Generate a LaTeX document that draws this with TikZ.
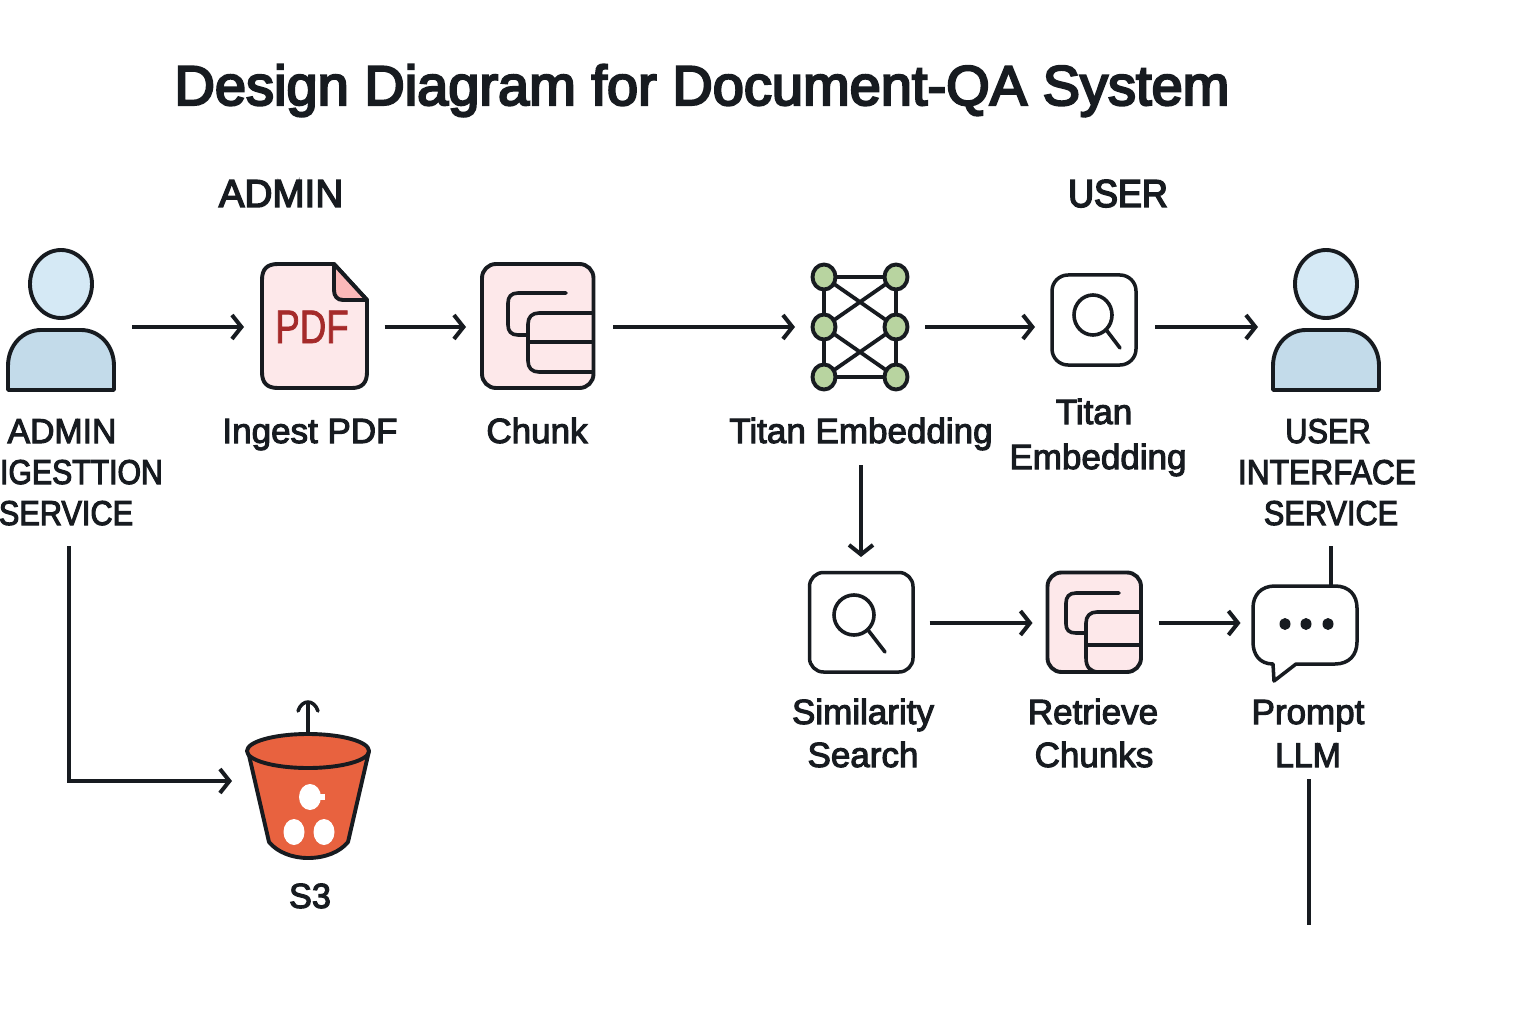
\documentclass[tikz,border=0pt]{standalone}
\usepackage{fontspec}
\usetikzlibrary{arrows.meta}
\setmainfont{Liberation Sans}
\newfontfamily\lowf[FakeBold=3]{Liberation Sans}
\newfontfamily\capa[FakeBold=3,FakeStretch=0.98]{Liberation Sans}
\newfontfamily\capb[FakeBold=3,FakeStretch=0.92]{Liberation Sans}
\newfontfamily\capc[FakeBold=3,FakeStretch=0.875]{Liberation Sans}
\newfontfamily\capd[FakeBold=3,FakeStretch=0.89]{Liberation Sans}
\newfontfamily\heada[FakeBold=3.8,FakeStretch=0.99]{Liberation Sans}
\newfontfamily\headb[FakeBold=3.8,FakeStretch=0.92]{Liberation Sans}
\newfontfamily\titlef[FakeBold=4]{Liberation Sans}
\newfontfamily\pdff[FakeStretch=0.78,FakeBold=1.6]{Liberation Sans}
\definecolor{ink}{HTML}{171B20}
\definecolor{pinkfill}{HTML}{FDE8EA}
\definecolor{foldfill}{HTML}{FBB9B9}
\definecolor{headfill}{HTML}{D5E9F5}
\definecolor{bodyfill}{HTML}{C3DBEA}
\definecolor{netfill}{HTML}{B8D4A0}
\definecolor{bucketfill}{HTML}{E8623F}
\definecolor{pdfred}{HTML}{A52A2A}
\tikzset{
  x=1pt,y=-1pt,
  lw/.style={line width=3.9pt,draw=ink,line join=round},
  thin icon/.style={line width=3.6pt,draw=ink,line join=round,line cap=round},
  arr/.style={line width=3.5pt,draw=ink,-{Straight Barb[length=9.5pt,width=24pt,line width=4pt]}},
  plain/.style={line width=3.5pt,draw=ink},
  port/.style={inner sep=0pt,outer sep=0pt,minimum width=#1,minimum height=120pt},
  lab/.style={anchor=base,inner sep=0pt,font=\lowf\fontsize{35}{42.5}\selectfont,text=ink,align=center},
  caplab/.style={anchor=base,inner sep=0pt,text=ink,align=center},
  head/.style={anchor=base,inner sep=0pt,text=ink},
}
\newcommand{\personicon}[1]{%
  \draw[lw,fill=headfill] (#1,284) ellipse [x radius=31,y radius=34];
  \draw[lw,fill=bodyfill] (#1-53,390) -- (#1-53,366) .. controls (#1-53,345) and (#1-38,330) .. (#1-20,330)
    -- (#1+20,330) .. controls (#1+38,330) and (#1+53,345) .. (#1+53,366) -- (#1+53,390) -- cycle;
}
\newcommand{\magnifier}[5]{%
  \draw[thin icon] (#1,#2) ellipse [x radius=#3,y radius=#4];
  \draw[thin icon] (#1+#3*0.7,#2+#4*0.75) -- #5;
}
\begin{document}
\begin{tikzpicture}
\useasboundingbox (0,0) rectangle (1536,1024);
\fill[white] (0,0) rectangle (1536,1024);

% title and headings
\node[anchor=base,inner sep=0pt,font=\titlef\fontsize{56}{56}\selectfont,text=ink] (title) at (702,105) {Design Diagram for Document-QA System};
\node[head,font=\heada\fontsize{39}{39}\selectfont] (hadmin) at (281,207) {ADMIN};
\node[head,font=\headb\fontsize{39}{39}\selectfont] (huser) at (1118,207) {USER};

% ports used by the connectors
\node[port=105pt] (admin) at (61,327) {};
\node[port=105pt] (pdf) at (314,327) {};
\node[port=112pt] (chunk) at (538,327) {};
\node[port=98pt] (embed) at (860,327) {};
\node[port=84pt] (tsearch) at (1094,327) {};
\node[port=105pt] (user) at (1326,327) {};
\node[port=104pt] (ssearch) at (861,623) {};
\node[port=94pt] (retrieve) at (1094,623) {};
\node[port=104pt] (prompt) at (1305,623) {};

% persons
\personicon{61}
\personicon{1326}

% pdf icon
\draw[lw,fill=pinkfill] (278,264) -- (334,264) -- (367,300) -- (367,372) .. controls (367,383) and (362,388) .. (352,388)
  -- (278,388) .. controls (267,388) and (262,383) .. (262,372) -- (262,280) .. controls (262,269) and (267,264) .. (278,264) -- cycle;
\draw[lw,fill=foldfill] (334,264) -- (334,290) .. controls (334,296) and (337,300) .. (343,300) -- (367,300) -- cycle;
\node[inner sep=0pt,font=\pdff\fontsize{47}{47}\selectfont,text=pdfred,anchor=base] (pdftext) at (312,343) {PDF};

% chunk icon
\draw[lw,fill=pinkfill,rounded corners=14pt] (482,264) rectangle (593.5,388);
\draw[thin icon] (566,293) -- (518,293) .. controls (511,293) and (508,297) .. (508,303) -- (508,325)
  .. controls (508,331) and (511,335) .. (518,335) -- (528,335);
\draw[thin icon,line cap=butt] (593,313) -- (539,313) .. controls (532,313) and (528,317) .. (528,324) -- (528,361)
  .. controls (528,368) and (532,372) .. (539,372) -- (593,372);
\draw[thin icon,line cap=butt] (528,342) -- (593,342);

% network icon
\foreach \a/\b in {824/277,896/277,824/327,896/327,824/377,896/377}{\coordinate (n\a\b) at (\a,\b);}
\draw[line width=3.8pt,draw=ink]
  (n824277) -- (n896277) -- (n896377) -- (n824377) -- cycle
  (n824277) -- (n896327) -- (n824377)
  (n896277) -- (n824327) -- (n896377);
\foreach \a/\b in {824/277,896/277,824/327,896/327,824/377,896/377}{
  \draw[line width=3.9pt,draw=ink,fill=netfill] (n\a\b) ellipse [x radius=11.5,y radius=12.5];}

% titan search icon
\draw[lw,rounded corners=16pt,line width=3.5pt] (1052,275) rectangle (1136,365);
\magnifier{1093}{315}{19}{20}{(1120,348)}

% similarity search icon
\draw[lw,rounded corners=14pt,line width=3.5pt] (809.5,572.5) rectangle (913,672);
\magnifier{854}{615}{20}{20}{(885,652)}

% retrieve icon
\draw[lw,fill=pinkfill,rounded corners=14pt] (1047.5,572.5) rectangle (1141,672);
\draw[thin icon] (1119,593) -- (1076,593) .. controls (1069,593) and (1066,597) .. (1066,603) -- (1066,624)
  .. controls (1066,630) and (1069,633) .. (1076,633) -- (1086,633);
\draw[thin icon,line cap=butt] (1140,612) -- (1097,612) .. controls (1090,612) and (1086,616) .. (1086,623) -- (1086,658)
  .. controls (1086,667) and (1090,672) .. (1099,672);
\draw[thin icon,line cap=butt] (1086,645) -- (1140,645);

% chat icon
\draw[lw,line width=3.5pt] (1273,664) .. controls (1260,664) and (1253,655) .. (1253,642) -- (1253,608)
  .. controls (1253,595) and (1261,586) .. (1275,586) -- (1335,586) .. controls (1349,586) and (1357,595) .. (1357,608)
  -- (1357,642) .. controls (1357,655) and (1349,664) .. (1335,664) -- (1296,664) -- (1274,681) -- cycle;
\foreach \p in {1285,1306,1328}{\fill[ink] (\p,624) ellipse [x radius=5.5,y radius=6];}

% bucket
\draw[lw,fill=bucketfill] (248,751) -- (269,842) .. controls (277,852) and (292,858) .. (308,858)
  .. controls (325,858) and (340,852) .. (348,842) -- (369,751) -- cycle;
\draw[lw,fill=bucketfill] (308,751) ellipse [x radius=61,y radius=17];
\fill[white] (310,797) ellipse [x radius=11,y radius=13];
\fill[white] (318,794) rectangle (325,800);
\fill[white] (294,832) ellipse [x radius=10.5,y radius=13];
\fill[white] (324,832) ellipse [x radius=10.5,y radius=13];
\coordinate (bucketrim) at (308,734);
\coordinate (bucketstem) at (308,702);
\draw[plain] (bucketrim) -- (bucketstem);
\draw[plain,line cap=round] (298,711) .. controls (300,705) and (304,702) .. (bucketstem) .. controls (312,702) and (316,705) .. (318,711);

% labels
\node[caplab,font=\capa\fontsize{34.5}{41}\selectfont] (l1) at (62,443) {ADMIN};
\node[caplab,anchor=base east,font=\capc\fontsize{34.5}{41}\selectfont] (l2) at (163,484) {IGESTTION};
\node[caplab,font=\capd\fontsize{34.5}{41}\selectfont] (l3) at (66,525) {SERVICE};
\node[lab] (lpdf) at (310,443) {Ingest PDF};
\node[lab] (lchunk) at (537,443) {Chunk};
\node[lab] (lembed) at (861,443) {Titan Embedding};
\node[lab] (lt1) at (1094,424) {Titan};
\node[lab] (lt2) at (1098,469) {Embedding};
\node[caplab,font=\capd\fontsize{34.5}{41}\selectfont] (lu1) at (1328,443) {USER};
\node[caplab,font=\capb\fontsize{34.5}{41}\selectfont] (lu2) at (1327,484) {INTERFACE};
\node[caplab,font=\capd\fontsize{34.5}{41}\selectfont] (lu3) at (1331,525) {SERVICE};
\node[lab] (ls1) at (863,724) {Similarity};
\node[lab] (ls2) at (863,767) {Search};
\node[lab] (lr1) at (1093,724) {Retrieve};
\node[lab] (lr2) at (1094,767) {Chunks};
\node[lab] (lp1) at (1308,724) {Prompt};
\node[caplab,font=\capa\fontsize{34.5}{41}\selectfont] (lp2) at (1308,767) {LLM};
\node[caplab,font=\capa\fontsize{35}{41}\selectfont] (ls3) at (310,908) {S3};

% connectors
\draw[arr,shorten <=18.5pt,shorten >=17.5pt] (admin.east) -- (pdf.west);
\draw[arr,shorten <=18pt,shorten >=16pt] (pdf.east) -- (chunk.west);
\draw[arr,shorten <=19pt,shorten >=16pt] (chunk.east) -- (embed.west);
\draw[arr,shorten <=16pt,shorten >=17pt] (embed.east) -- (tsearch.west);
\draw[arr,shorten <=19pt,shorten >=15.5pt] (tsearch.east) -- (user.west);
\draw[arr,shorten <=16.5pt,shorten >=14.5pt] (ssearch.east) -- (retrieve.west);
\draw[arr,shorten <=17.5pt,shorten >=12.5pt] (retrieve.east) -- (prompt.west);
\coordinate (embedout) at (861,465);
\coordinate (ssearchin) at (861,557);
\draw[arr] (embedout) -- (ssearchin);
\coordinate (userout) at (1331,546);
\coordinate (promptin) at (1331,586);
\draw[plain] (userout) -- (promptin);
\coordinate (promptout) at (1309,779);
\coordinate (loose) at (1309,925);
\draw[plain] (promptout) -- (loose);
\coordinate (adminout) at (69,546);
\coordinate (elbow) at (69,781);
\coordinate (s3in) at (232,781);
\draw[arr] (adminout) -- (elbow) -- (s3in);
\end{tikzpicture}
\end{document}
